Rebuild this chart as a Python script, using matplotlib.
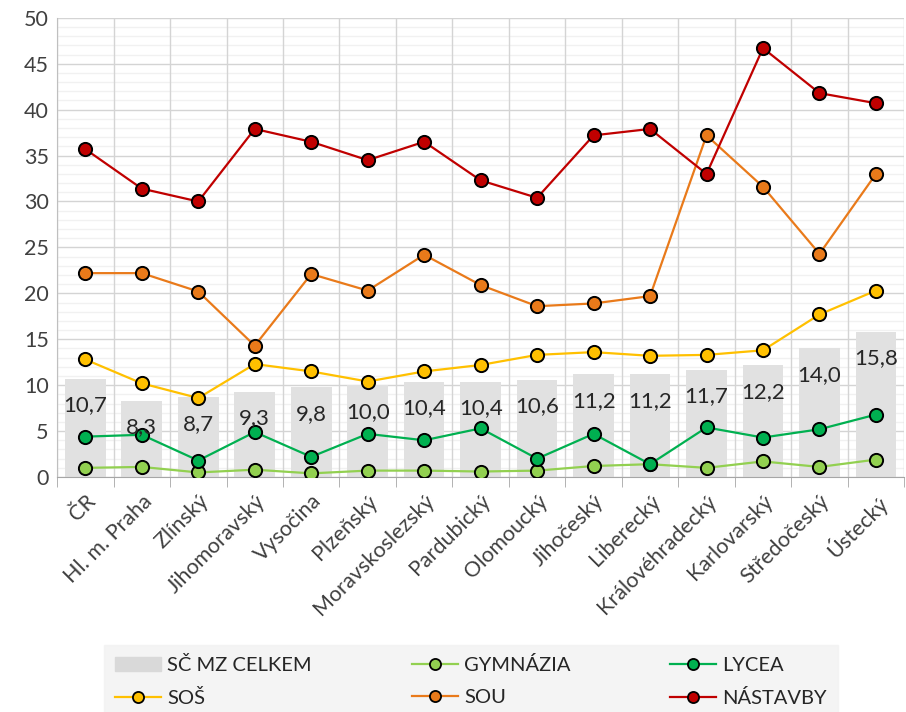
import numpy as np
import matplotlib.pyplot as plt
from matplotlib.patches import Patch
from matplotlib.lines import Line2D

plt.rcParams['font.family'] = ['Lato', 'DejaVu Sans']

kraje = ['ČR', 'Hl. m. Praha', 'Zlínský', 'Jihomoravský', 'Vysočina', 'Plzeňský',
         'Moravskoslezský', 'Pardubický', 'Olomoucký', 'Jihočeský', 'Liberecký',
         'Královéhradecký', 'Karlovarský', 'Středočeský', 'Ústecký']

celkem = [10.7, 8.3, 8.7, 9.3, 9.8, 10.0, 10.4, 10.4, 10.6, 11.2, 11.2, 11.7, 12.2, 14.0, 15.8]
gymnazia = [1.0, 1.1, 0.5, 0.8, 0.4, 0.7, 0.7, 0.6, 0.7, 1.2, 1.4, 1.0, 1.7, 1.1, 1.9]
lycea = [4.4, 4.6, 1.8, 4.9, 2.2, 4.7, 4.0, 5.3, 2.0, 4.7, 1.4, 5.4, 4.3, 5.2, 6.8]
sos = [12.8, 10.2, 8.6, 12.3, 11.5, 10.4, 11.5, 12.2, 13.3, 13.6, 13.2, 13.3, 13.8, 17.7, 20.3]
sou = [22.2, 22.2, 20.2, 14.3, 22.1, 20.3, 24.2, 20.9, 18.6, 18.9, 19.7, 37.2, 31.6, 24.3, 33.0]
nastavby = [35.7, 31.4, 30.0, 37.9, 36.5, 34.5, 36.5, 32.3, 30.4, 37.2, 37.9, 33.0, 46.7, 41.8, 40.7]

serie = [
    ('GYMNÁZIA', gymnazia, '#92d050'),
    ('LYCEA', lycea, '#00b050'),
    ('SOŠ', sos, '#ffc000'),
    ('SOU', sou, '#e97a1a'),
    ('NÁSTAVBY', nastavby, '#c00000'),
]

fig = plt.figure(figsize=(9.06, 7.12), dpi=100)
ax = fig.add_axes([0.063, 0.33, 0.935, 0.645])

x = np.arange(len(kraje))

# grid
ax.set_axisbelow(True)
for y in range(0, 51):
    if y % 5 == 0:
        ax.axhline(y, color='#d4d4d4', lw=1, zorder=0)
    else:
        ax.axhline(y, color='#f1f1f1', lw=1, zorder=0)
for b in np.arange(-0.5, len(kraje), 1.0):
    ax.axvline(b, color='#d4d4d4', lw=1, zorder=0)

bars = ax.bar(x, celkem, width=0.72, color='#e1e1e1', zorder=1)
for xi, v in zip(x, celkem):
    ax.annotate(f'{v:.1f}'.replace('.', ','), (xi, v), xytext=(0, -12),
                textcoords='offset points', ha='center', va='top',
                fontsize=16, color='#262626', zorder=5)

for name, vals, col in serie:
    ax.plot(x, vals, color=col, lw=1.6, marker='o', ms=9.5,
            mfc=col, mec='black', mew=1.4, zorder=3)

ax.set_xlim(-0.5, len(kraje) - 0.5)
ax.set_ylim(0, 50)
ax.set_yticks(range(0, 51, 5))
ax.tick_params(axis='y', length=0, labelsize=15.5, colors='#404040', pad=6)

ax.set_xticks(np.arange(-0.5, len(kraje), 1.0), minor=True)
ax.set_xticks(x)
ax.set_xticklabels(kraje, rotation=45, ha='right', rotation_mode='anchor',
                   fontsize=15.5, color='#404040')
ax.tick_params(axis='x', which='major', length=0, pad=10)
ax.tick_params(axis='x', which='minor', length=7, color='#a6a6a6')

for s in ['top', 'right']:
    ax.spines[s].set_visible(False)
ax.spines['left'].set_color('#bfbfbf')
ax.spines['bottom'].set_color('#a6a6a6')

handles = [Patch(color='#d9d9d9', label='SČ MZ CELKEM')]
for name, vals, col in serie:
    handles.append(Line2D([], [], color=col, lw=1.6, marker='o', ms=8,
                          mfc=col, mec='black', mew=1.3, label=name))
# row-major order for a 3 column legend
order = [0, 3, 1, 4, 2, 5]
leg = fig.legend([handles[i] for i in order], [handles[i].get_label() for i in order],
                 ncol=3, loc='upper left', mode='expand',
                 bbox_to_anchor=(104 / 906, 1 - 645 / 712, 734 / 906, 0),
                 frameon=True, fancybox=False, fontsize=14.5, handlelength=2.3,
                 columnspacing=1.0, handletextpad=0.3, labelspacing=0.75,
                 borderpad=0.55, borderaxespad=0)
leg.get_frame().set_facecolor('#f2f2f2')
leg.get_frame().set_edgecolor('#f2f2f2')
for t in leg.get_texts():
    t.set_color('#262626')

fig.savefig('out.png', dpi=100)
